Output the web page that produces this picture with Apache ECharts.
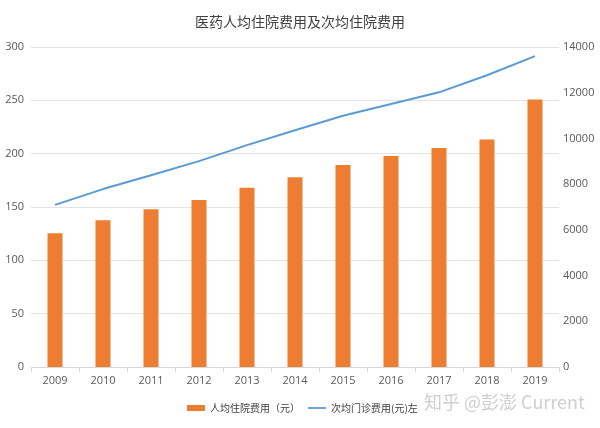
<!DOCTYPE html>
<html><head><meta charset="utf-8">
<script src="https://cdn.jsdelivr.net/npm/echarts@6/dist/echarts.min.js"></script>
<style>html,body{margin:0;padding:0;background:#fff}#c{width:600px;height:428px}</style>
</head><body><div id="c"></div>
<script>
var years = ['2009','2010','2011','2012','2013','2014','2015','2016','2017','2018','2019'];
var barValues = [125.4,137.5,147.8,156.5,168.1,177.8,189.3,197.7,205.2,213.3,250.8];
var lineValues = [152.0,166.8,179.8,193.0,208.0,222.0,235.5,246.5,257.5,273.5,291.5];
var barName = '人均住院费用（元）';
var lineName = '次均门诊费用(元)左';
var titleText = '医药人均住院费用及次均住院费用';
var watermark = '知乎 @彭澎 Current';

var chart = echarts.init(document.getElementById('c'));
var labelFont = {color:'#595959', fontSize:11, fontFamily:'"Open Sans","Noto Sans CJK SC",sans-serif'};
chart.setOption({
  animation:false,
  title:{text:titleText,left:'center',top:10,textStyle:{fontSize:14,fontWeight:'normal',color:'#404040',fontFamily:'"Noto Sans CJK SC",sans-serif'}},
  grid:{left:31,right:41,top:47,bottom:61,containLabel:false},
  legend:{bottom:10,left:182,itemGap:8,itemWidth:18,itemHeight:6,symbolKeepAspect:true,
    textStyle:{fontSize:10,color:'#404040',fontFamily:'"Noto Sans CJK SC",sans-serif'},
    data:[{name:barName,icon:'rect'},{name:lineName,icon:'path://M0,0L20,0L20,2L0,2Z'}]},
  xAxis:{type:'category',data:years,boundaryGap:true,
    axisLine:{lineStyle:{color:'#d9d9d9'}},
    axisTick:{show:true,alignWithLabel:false,lineStyle:{color:'#d9d9d9'},length:5},
    axisLabel:Object.assign({margin:8},labelFont)},
  yAxis:[
    {type:'value',min:0,max:300,interval:50,position:'left',
     axisLine:{show:false},axisTick:{show:false},
     splitLine:{lineStyle:{color:'#e3e3e3'}},
     axisLabel:Object.assign({margin:7},labelFont)},
    {type:'value',min:0,max:14000,interval:2000,position:'right',
     axisLine:{show:false},axisTick:{show:false},splitLine:{show:false},
     axisLabel:Object.assign({margin:4,align:'left',formatter:function(v){return String(v);}},labelFont)}
  ],
  series:[
    {name:barName,type:'bar',data:barValues,barWidth:15,yAxisIndex:0,itemStyle:{color:'#ED7D31'}},
    {name:lineName,type:'line',data:lineValues,yAxisIndex:0,symbol:'none',smooth:false,
     lineStyle:{color:'#5B9BD5',width:2},itemStyle:{color:'#5B9BD5'}}
  ],
  graphic:[{type:'text',left:424,top:393,style:{text:watermark,fill:'#cfcfcf',fontSize:18,fontFamily:'"Noto Sans CJK SC",sans-serif'}}]
});
</script></body></html>
